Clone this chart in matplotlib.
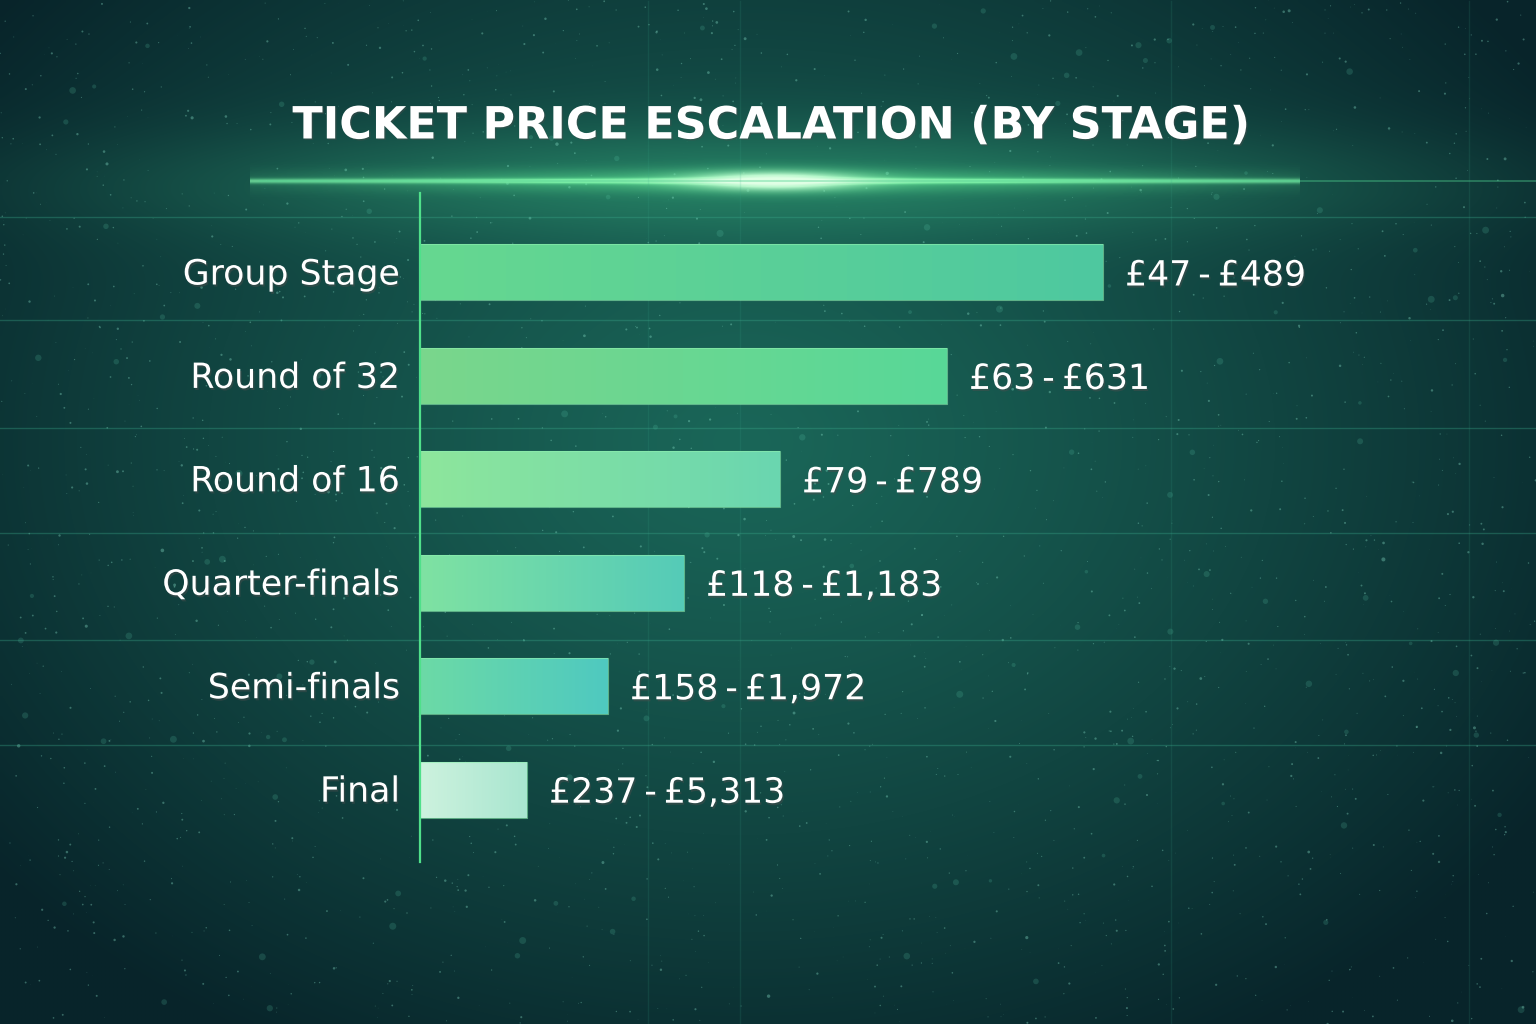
import numpy as np
import matplotlib
matplotlib.use("Agg")
import matplotlib.pyplot as plt
import matplotlib.patheffects as pe
from matplotlib.colors import to_rgb

# data
stages = ['Group Stage', 'Round of 32', 'Round of 16', 'Quarter-finals', 'Semi-finals', 'Final']
price_labels = ['£47-£489', '£63-£631', '£79-£789', '£118-£1,183', '£158-£1,972', '£237-£5,313']
bar_length = [683, 527, 360, 264, 188, 107]   # relative bar length as drawn
left_colors = ['#66d890', '#7ad68c', '#8ee69c', '#7fe2a2', '#6cdaa6', '#cdf2de']
right_colors = ['#4ec8a0', '#58d898', '#6ad6b0', '#55cbb8', '#4fc9c0', '#a9e6d0']

W, H = 1536, 1024
fig = plt.figure(figsize=(W / 100, H / 100), dpi=100)

# background: teal with a lighter centre, green haze near the title line, stars
bg = fig.add_axes([0, 0, 1, 1])
bg.set_xlim(0, W)
bg.set_ylim(H, 0)
bg.axis('off')
yy, xx = np.mgrid[0:H:4, 0:W:4].astype(float)
r = np.sqrt(((xx - 740) / 950.0) ** 2 + ((yy - 440) / 700.0) ** 2)
r = np.clip(r, 0, 1) ** 1.2
c_in = np.array(to_rgb('#1a6658'))
c_out = np.array(to_rgb('#08242a'))
img = c_in * (1 - r[..., None]) + c_out * r[..., None]
haze = np.exp(-((xx - 770) / 550.0) ** 2 - ((yy - 182) / 55.0) ** 2)
img = img + haze[..., None] * (np.array(to_rgb('#2f9a72')) - img) * 0.6
bg.imshow(np.clip(img, 0, 1), extent=[0, W, H, 0], aspect='auto', zorder=0,
          interpolation='bilinear')

rng = np.random.default_rng(3)
n = 2600
bg.scatter(rng.uniform(0, W, n), rng.uniform(0, H, n), s=rng.exponential(0.9, n),
           color='#8fe8d0', alpha=0.35, linewidths=0, zorder=1)
n2 = 120
bg.scatter(rng.uniform(0, W, n2), rng.uniform(0, H, n2), s=rng.uniform(6, 26, n2),
           color='#5fd0b0', alpha=0.18, linewidths=0, zorder=1)

# glow line under the title
gx = np.linspace(-1, 1, 600)
gy = np.linspace(-1, 1, 120)
GX, GY = np.meshgrid(gx, gy)
line_y = 181
half = 60
halo = np.exp(-(GY * half / 11.0) ** 2) * np.exp(-(GX * 1.2) ** 2)
core = np.exp(-(GY * half / 2.6) ** 2) * (0.65 + 0.35 * np.exp(-(GX * 2.2) ** 2))
blob = np.exp(-(GX * 6.0) ** 2 - (GY * half / 11.0) ** 2)
alpha = np.clip(0.55 * halo + core + 0.8 * blob, 0, 1)
glow = np.zeros(GX.shape + (4,))
col = np.array(to_rgb('#5ee894'))
white = np.array([0.88, 1.0, 0.9])
mix = np.clip(0.35 * core + blob, 0, 1)[..., None]
glow[..., :3] = col * (1 - mix) + white * mix
glow[..., 3] = alpha
bg.imshow(glow, extent=[250, 1300, line_y + half, line_y - half], aspect='auto', zorder=2,
          interpolation='bilinear')
bg.plot([260, 1536], [line_y, line_y], color='#50d090', lw=1.2, alpha=0.45, zorder=2)

fig.text(0.503, 1 - 126 / H, 'TICKET PRICE ESCALATION (BY STAGE)', ha='center', va='center',
         color='white', fontsize=32, fontweight='bold', family='DejaVu Sans',
         path_effects=[pe.withSimplePatchShadow(offset=(1, -1), alpha=0.4)])

# main axes
ax = fig.add_axes([420 / W, (H - 862) / H, 1050 / W, 662 / H])
ax.patch.set_alpha(0)
ax.set_xlim(0, 1050)
ax.set_ylim(5.7, -0.7)
for s in ax.spines.values():
    s.set_visible(False)
ax.set_xticks([])
ax.set_yticks([])

# faint grid
for yv in [-0.54, 0.46, 1.5, 2.52, 3.55, 4.57]:
    ax.axhline(yv, xmin=-0.4, xmax=1.07, color='#3aa88a', alpha=0.35, lw=1, clip_on=False, zorder=1)
for xv in [228, 320, 751, 1049]:
    ax.axvline(xv, ymin=-0.3, ymax=1.3, color='#3aa88a', alpha=0.14, lw=1, clip_on=False, zorder=1)
ax.plot([0, 0], [0, 1.01], transform=ax.transAxes, color='#4fe08a', lw=1.6,
        clip_on=False, zorder=3)

bar_h = 0.54
shadow = [pe.withSimplePatchShadow(offset=(1, -1.5), alpha=0.45)]
for i, (lab, val, txt) in enumerate(zip(stages, bar_length, price_labels)):
    c0 = np.array(to_rgb(left_colors[i]))
    c1 = np.array(to_rgb(right_colors[i]))
    t = np.linspace(0, 1, 256)[None, :, None]
    grad = c0 * (1 - t) + c1 * t
    ax.imshow(grad, extent=[0, val, i + bar_h / 2, i - bar_h / 2], aspect='auto',
              interpolation='bilinear', zorder=2)
    ax.barh(i, val, height=bar_h, left=0, color='none', edgecolor='#8ff0b0',
            linewidth=0.8, alpha=0.6, zorder=2.5)
    ax.text(-20, i + 0.02, lab, ha='right', va='center', color='white', fontsize=25,
            family='DejaVu Sans', clip_on=False, path_effects=shadow)
    ax.text(val + 22, i + 0.03, txt.replace('-', '\u2009-\u2009'), ha='left', va='center',
            color='white', fontsize=25, family='DejaVu Sans', path_effects=shadow)

ax.set_xlim(0, 1050)
ax.set_ylim(5.7, -0.7)
fig.savefig('out.png', dpi=100)
